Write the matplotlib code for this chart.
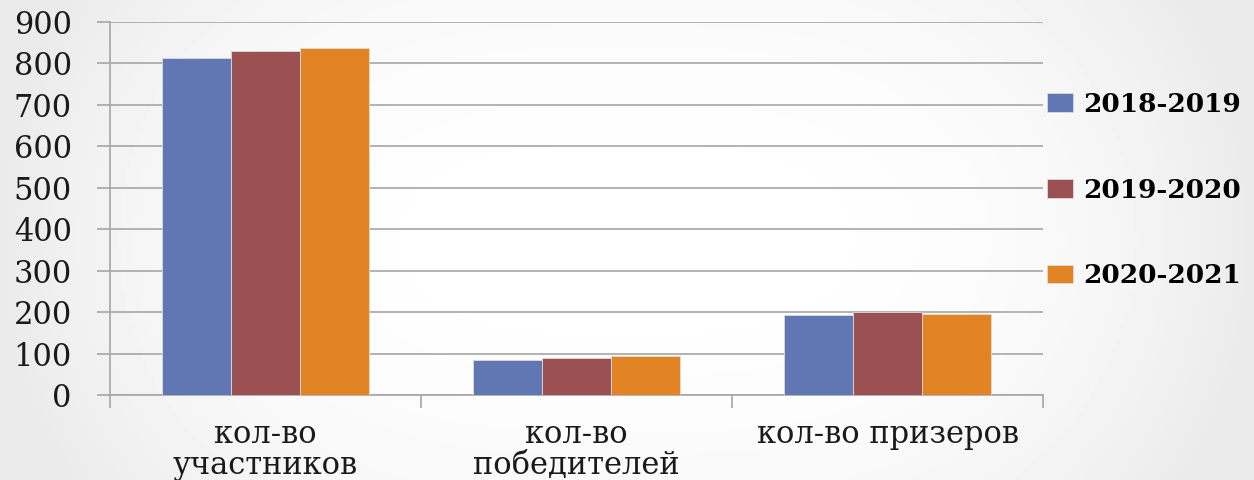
import numpy as np
import matplotlib
matplotlib.use('Agg')
import matplotlib.pyplot as plt
from matplotlib.ticker import MultipleLocator, FixedLocator

# Data
categories = ['кол-во\nучастников', 'кол-во\nпобедителей', 'кол-во призеров']
seasons = ['2018-2019', '2019-2020', '2020-2021']
vals_2018 = [814, 85, 193]
vals_2019 = [831, 90, 200]
vals_2020 = [838, 93, 196]
colors = ['#6177b4', '#9b5152', '#e38424']

plt.rcParams['font.family'] = ['DejaVu Serif']

fig = plt.figure(figsize=(12.54, 4.8), dpi=100)

# soft grey slide background, lighter in the middle
bg = fig.add_axes([0, 0, 1, 1], zorder=-10)
xx = np.linspace(-1, 1, 300)
yy = np.linspace(-1, 1, 120)
X, Y = np.meshgrid(xx, yy)
shade = 1.0 - 0.08 * np.clip(np.abs(X) ** 3 + 0.3 * np.abs(Y) ** 2, 0, 1)
bg.imshow(shade, cmap='gray', vmin=0, vmax=1, aspect='auto', extent=[0, 1, 0, 1])
bg.axis('off')

ax = fig.add_axes([110 / 1254, 1 - 395 / 480, (1043 - 110) / 1254, (395 - 22) / 480])
ax.patch.set_alpha(0)

x = np.arange(len(categories))
w = 0.222
series = [vals_2018, vals_2019, vals_2020]
for i, (vals, lab, col) in enumerate(zip(series, seasons, colors)):
    ax.bar(x + (i - 1) * w, vals, w, color=col, label=lab,
           edgecolor='#dcdcdc', linewidth=0.6, zorder=3)

ax.set_xlim(-0.5, 2.5)
ax.set_ylim(0, 900)
ax.yaxis.set_major_locator(MultipleLocator(100))
ax.grid(axis='y', color='#a6a6a6', linewidth=1.2, zorder=0)
ax.set_axisbelow(True)

for s in ['top', 'right']:
    ax.spines[s].set_visible(False)
ax.spines['left'].set_color('#a6a6a6')
ax.spines['bottom'].set_color('#a6a6a6')
ax.spines['left'].set_linewidth(1.2)
ax.spines['bottom'].set_linewidth(1.2)

ax.tick_params(axis='y', length=9.5, width=1.2, color='#a6a6a6',
               pad=18, labelsize=22, labelcolor='#1a1a1a')
ax.set_xticks(x)
ax.set_xticklabels(categories, fontsize=22, color='#1a1a1a', linespacing=1.0,
                   va='top')
ax.xaxis.set_minor_locator(FixedLocator([-0.5, 0.5, 1.5, 2.5]))
ax.tick_params(axis='x', which='major', length=0, pad=17)
ax.tick_params(axis='x', which='minor', length=9, width=1.2, color='#a6a6a6')

fig.legend(loc='center left', bbox_to_anchor=(1036 / 1254, 1 - 190 / 480),
           frameon=False, prop={'weight': 'bold', 'size': 19},
           handlelength=1.0, handleheight=0.7, handletextpad=0.4,
           labelspacing=2.3, borderaxespad=0)

fig.savefig('out.png', dpi=100)
